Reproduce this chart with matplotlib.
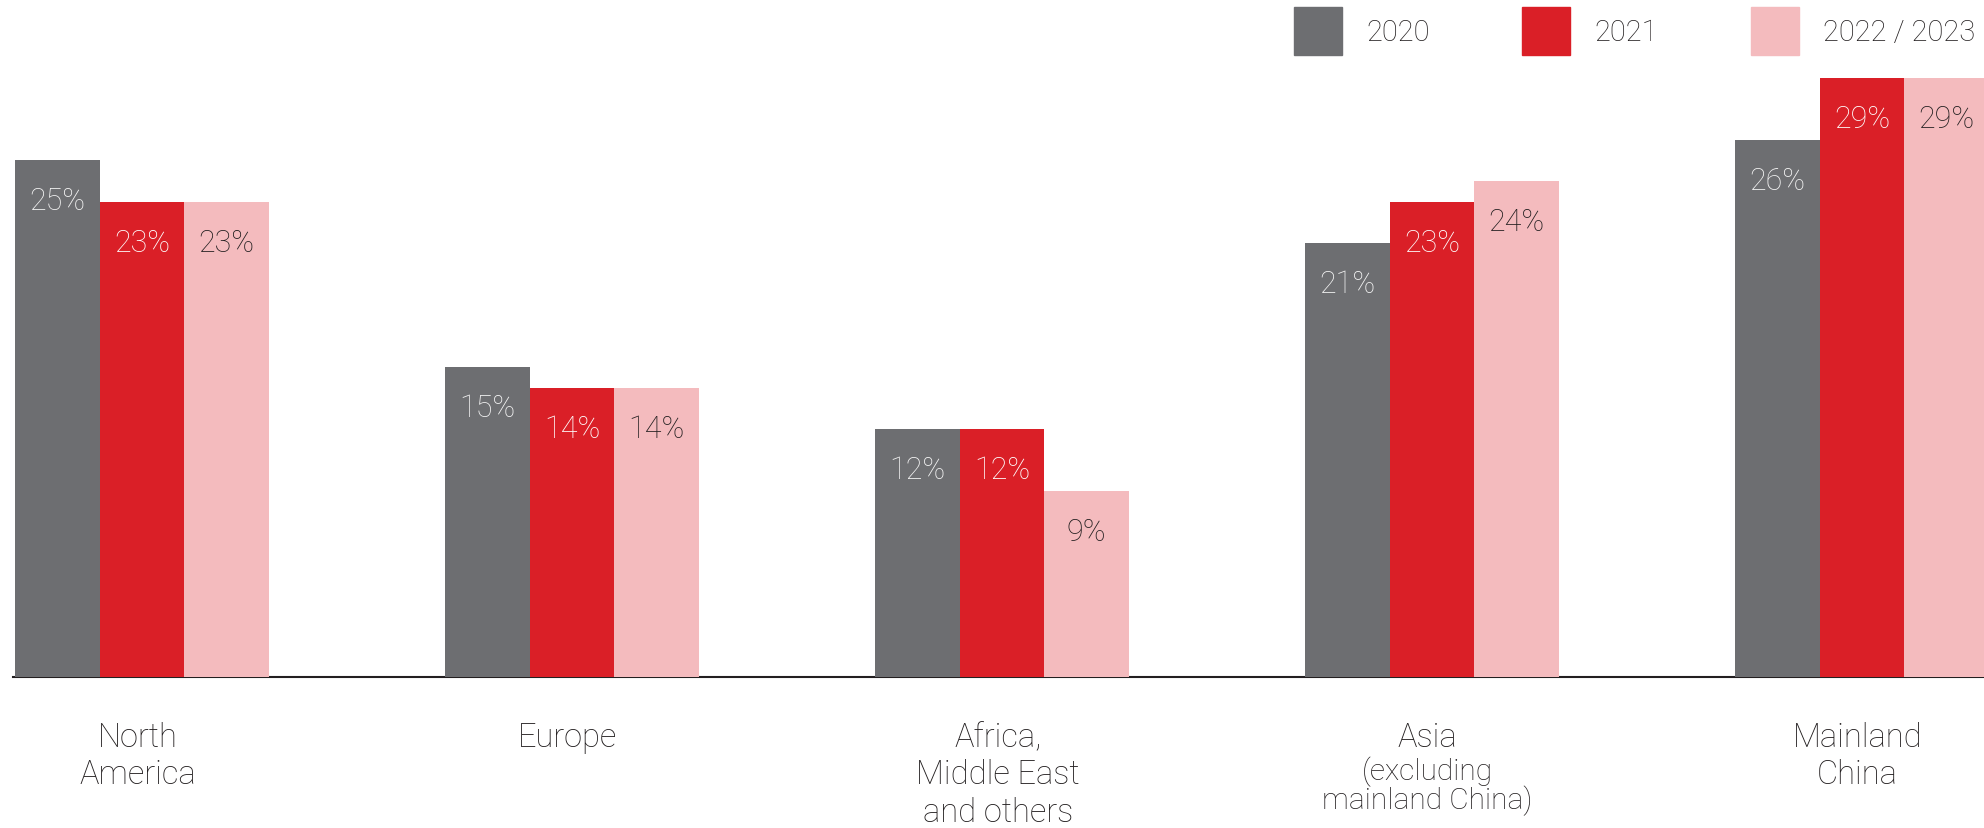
import matplotlib.pyplot as plt
from matplotlib.patches import Rectangle
import numpy as np

# Share of revenue by region, in percent
regions = ['North\nAmerica', 'Europe', 'Africa,\nMiddle East\nand others', 'Asia', 'Mainland\nChina']
region_notes = ['', '', '', '(excluding\nmainland China)', '']
years = ['2020', '2021', '2022 / 2023']
share_2020 = [25, 15, 12, 21, 26]
share_2021 = [23, 14, 12, 23, 29]
share_2022 = [23, 14, 9, 24, 29]

series = [share_2020, share_2021, share_2022]
bar_colors = ['#6d6e71', '#da1f27', '#f4bbbe']
label_colors = ['#f4f4f4', '#ffffff', '#231f20']

plt.rcParams['font.family'] = ['Roboto', 'DejaVu Sans']

DPI = 100
PT = 72 / DPI  # points per pixel
fig = plt.figure(figsize=(19.84, 8.29), dpi=DPI)
fig.patch.set_facecolor('white')

# axes laid out in pixels: axis line at 678 px from top, starting at x=13
ax = fig.add_axes([13 / 1984, 151 / 829, 1971 / 1984, 678 / 829])
ax.set_facecolor('none')

x = np.arange(len(regions))
width = 0.197
for i, vals in enumerate(series):
    xpos = x + (i - 1) * width
    ax.bar(xpos, vals, width=width, color=bar_colors[i], zorder=2)
    for xp, v in zip(xpos, vals):
        ax.annotate(f'{v}%', xy=(xp, v), xytext=(0, -49 * PT),
                    textcoords='offset points', ha='center', va='baseline',
                    fontsize=22, fontweight='light', color=label_colors[i],
                    zorder=3)

ax.set_xlim(-0.3, 4.284)
ax.set_ylim(0, 32.8)


def put_lines(xi, text, first_px, step_px, size):
    # one annotation per line so every baseline sits where it should
    for k, line in enumerate(text.split('\n')):
        ax.annotate(line, xy=(xi, 0), xytext=(0, -(first_px + k * step_px) * PT),
                    textcoords='offset points', ha='center', va='baseline',
                    fontsize=size, fontweight='light', color='#231f20',
                    annotation_clip=False)


# region names under the axis
for xi, name, note in zip(x, regions, region_notes):
    put_lines(xi - 0.01, name, 69, 37.5, 23.5)
    if note:
        put_lines(xi - 0.01, note, 102, 29, 21.5)

for side in ['top', 'right', 'left']:
    ax.spines[side].set_visible(False)
ax.spines['bottom'].set_color('#231f20')
ax.spines['bottom'].set_linewidth(1.5)
ax.spines['bottom'].set_zorder(1)
ax.set_xticks([])
ax.set_yticks([])

# legend along the top right
sq = 48
legend_x = [1294, 1522, 1751]
for lx, label, col in zip(legend_x, years, bar_colors):
    fig.add_artist(Rectangle((lx / 1984, 1 - (8 + sq) / 829), sq / 1984, sq / 829,
                             transform=fig.transFigure, color=col))
    fig.text((lx + sq + 24) / 1984, 1 - 41.3 / 829, label, ha='left', va='baseline',
             fontsize=21, fontweight='light', color='#231f20')

fig.savefig('out.png', dpi=DPI, facecolor='white')
